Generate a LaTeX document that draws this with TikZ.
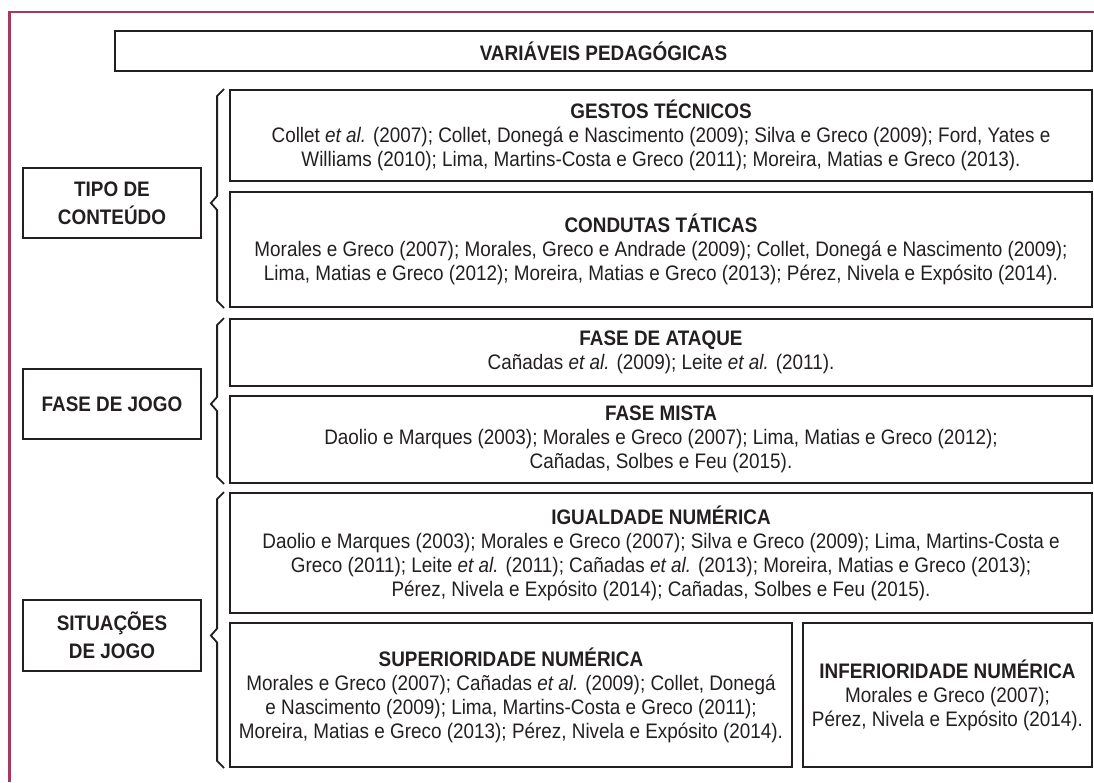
\documentclass[tikz,border=0pt]{standalone}
\usepackage{fontspec}
\setmainfont{Liberation Sans}[FakeStretch=0.9]
\usetikzlibrary{calc}
\definecolor{moldura}{RGB}{168,56,96}
\definecolor{tinta}{RGB}{35,31,32}

\begin{document}
\begin{tikzpicture}[x=1pt,y=-1pt,
        caixa/.style={draw=tinta,line width=1.8pt,text=tinta,align=center,inner sep=0pt,
            font=\fontsize{21}{24}\selectfont},
        rotulo/.style={caixa,font=\fontsize{21}{28}\selectfont\bfseries},
        chave/.style={draw=tinta,line width=1.8pt}]

    \useasboundingbox (0,0) rectangle (1094,782);
    \draw[moldura,line width=2.5pt] (9.5,782) -- (9.5,12) -- (1094,12);

    \node[rotulo,minimum width=977,minimum height=40] (titulo) at (603.5,51) {VARIÁVEIS PEDAGÓGICAS};

    % grupos da esquerda
    \node[rotulo,minimum width=178,minimum height=70] (tipo) at (112,203) {TIPO DE\\CONTEÚDO};
    \node[rotulo,minimum width=178,minimum height=70] (fase) at (112,404) {FASE DE JOGO};
    \node[rotulo,minimum width=178,minimum height=71] (situacoes) at (112,635.5) {SITUAÇÕES\\DE JOGO};

    % caixas da direita
    \node[caixa,minimum width=862,minimum height=91] (gestos) at (661,135.5) {\textbf{GESTOS TÉCNICOS}\\
        Collet \textit{et al.} (2007); Collet, Donegá e Nascimento (2009); Silva e Greco (2009); Ford, Yates e\\
        Williams (2010); Lima, Martins-Costa e Greco (2011); Moreira, Matias e Greco (2013).};
    \node[caixa,minimum width=862,minimum height=115] (condutas) at (661,249.5) {\textbf{CONDUTAS TÁTICAS}\\
        Morales e Greco (2007); Morales, Greco e Andrade (2009); Collet, Donegá e Nascimento (2009);\\
        Lima, Matias e Greco (2012); Moreira, Matias e Greco (2013); Pérez, Nivela e Expósito (2014).};
    \node[caixa,minimum width=862,minimum height=67] (ataque) at (661,352.5) {\textbf{FASE DE ATAQUE}\\
        Cañadas \textit{et al.} (2009); Leite \textit{et al.} (2011).};
    \node[caixa,minimum width=862,minimum height=87] (mista) at (661,439.5) {\textbf{FASE MISTA}\\
        Daolio e Marques (2003); Morales e Greco (2007); Lima, Matias e Greco (2012);\\
        Cañadas, Solbes e Feu (2015).};
    \node[caixa,minimum width=862,minimum height=120] (igualdade) at (661,553) {\textbf{IGUALDADE NUMÉRICA}\\
        Daolio e Marques (2003); Morales e Greco (2007); Silva e Greco (2009); Lima, Martins-Costa e\\
        Greco (2011); Leite \textit{et al.} (2011); Cañadas \textit{et al.} (2013); Moreira, Matias e Greco (2013);\\
        Pérez, Nivela e Expósito (2014); Cañadas, Solbes e Feu (2015).};
    \node[caixa,minimum width=562,minimum height=144] (superior) at (511,695) {\textbf{SUPERIORIDADE NUMÉRICA}\\
        Morales e Greco (2007); Cañadas \textit{et al.} (2009); Collet, Donegá\\
        e Nascimento (2009); Lima, Martins-Costa e Greco (2011);\\
        Moreira, Matias e Greco (2013); Pérez, Nivela e Expósito (2014).};
    \node[caixa,minimum width=289,minimum height=144] (inferior) at (947.5,695) {\textbf{INFERIORIDADE NUMÉRICA}\\
        Morales e Greco (2007);\\
        Pérez, Nivela e Expósito (2014).};

    % chaves
    \draw[chave] ($(gestos.north west)+(-5,0)$) -- ++(-7,7) -- ($(tipo.east -| gestos.west)+(-12,-7)$)
        -- ($(tipo.east)+(9,0)$) -- ($(tipo.east -| gestos.west)+(-12,7)$)
        -- ($(condutas.south west)+(-12,-7)$) -- ++(7,7);
    \draw[chave] ($(ataque.north west)+(-5,0)$) -- ++(-7,7) -- ($(fase.east -| ataque.west)+(-12,-7)$)
        -- ($(fase.east)+(9,0)$) -- ($(fase.east -| ataque.west)+(-12,7)$)
        -- ($(mista.south west)+(-12,-7)$) -- ++(7,7);
    \draw[chave] ($(igualdade.north west)+(-5,0)$) -- ++(-7,7) -- ($(situacoes.east -| igualdade.west)+(-12,-7)$)
        -- ($(situacoes.east)+(9,0)$) -- ($(situacoes.east -| igualdade.west)+(-12,7)$)
        -- ($(superior.south west)+(-12,-7)$) -- ++(7,7);
\end{tikzpicture}
\end{document}
